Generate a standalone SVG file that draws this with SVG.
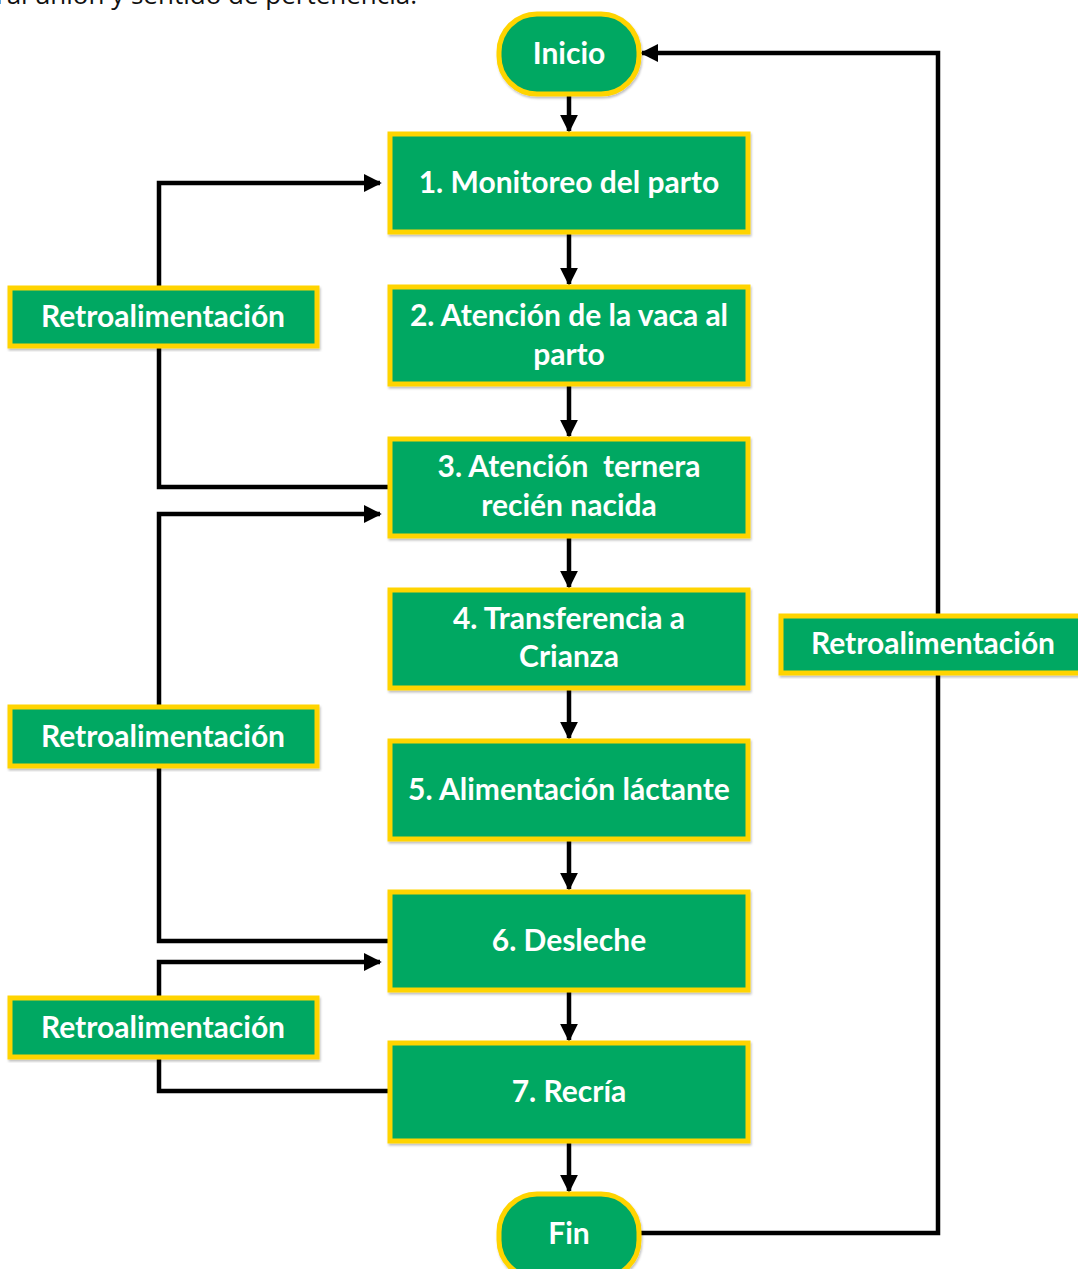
<svg xmlns="http://www.w3.org/2000/svg" width="1078" height="1269" viewBox="0 0 1078 1269">
<defs>
<marker id="ah" viewBox="0 0 10 10" refX="9" refY="5" markerWidth="4" markerHeight="4" markerUnits="strokeWidth" orient="auto">
<path d="M0,0 L10,5 L0,10 z" fill="#000"/>
</marker>
<filter id="sh" x="-5%" y="-5%" width="110%" height="115%">
<feDropShadow dx="1" dy="2" stdDeviation="1" flood-color="#000" flood-opacity="0.25"/>
</filter>
</defs>
<style>
.box{fill:#00A862;stroke:#FFD400;stroke-width:5;filter:url(#sh)}
.t{font-family:Lato,"Open Sans","Liberation Sans",sans-serif;font-weight:700;font-size:30px;fill:#fff;text-anchor:middle}
.c{fill:none;stroke:#000;stroke-width:4.5}
.top{font-family:"Open Sans","Liberation Sans",sans-serif;font-size:26px;fill:#111}
</style>
<rect width="1078" height="1269" fill="#fff"/>
<text class="top" x="-4" y="4">ral unión y sentido de pertenencia.</text>
<g id="connectors">
<path class="c" d="M569,95 V131" marker-end="url(#ah)"/>
<path class="c" d="M569,233 V284" marker-end="url(#ah)"/>
<path class="c" d="M569,385 V436" marker-end="url(#ah)"/>
<path class="c" d="M569,537 V587" marker-end="url(#ah)"/>
<path class="c" d="M569,689 V738" marker-end="url(#ah)"/>
<path class="c" d="M569,840 V889" marker-end="url(#ah)"/>
<path class="c" d="M569,991 V1040" marker-end="url(#ah)"/>
<path class="c" d="M569,1142 V1191" marker-end="url(#ah)"/>
<path class="c" d="M640,1233 H938 V53 H642" marker-end="url(#ah)"/>
<path class="c" d="M390,487 H159 V183 H380" marker-end="url(#ah)"/>
<path class="c" d="M390,941 H159 V514 H380" marker-end="url(#ah)"/>
<path class="c" d="M390,1091 H159 V962 H380" marker-end="url(#ah)"/>
</g>
<g id="inicio"><rect class="box" x="499" y="14" width="140" height="80" rx="38"/><text class="t" x="569" y="64">Inicio</text></g>
<g id="n1"><rect class="box" x="390" y="134" width="358" height="98"/><text class="t" x="569" y="193">1. Monitoreo del parto</text></g>
<g id="n2"><rect class="box" x="390" y="287" width="358" height="97"/><text class="t" x="569" y="326">2. Atención de la vaca al</text><text class="t" x="569" y="365">parto</text></g>
<g id="n3"><rect class="box" x="390" y="439" width="358" height="97"/><text class="t" x="569" y="477" xml:space="preserve">3. Atención  ternera</text><text class="t" x="569" y="516">recién nacida</text></g>
<g id="n4"><rect class="box" x="390" y="590" width="358" height="98"/><text class="t" x="569" y="629">4. Transferencia a</text><text class="t" x="569" y="667">Crianza</text></g>
<g id="n5"><rect class="box" x="390" y="741" width="358" height="98"/><text class="t" x="569" y="800">5. Alimentación láctante</text></g>
<g id="n6"><rect class="box" x="390" y="892" width="358" height="98"/><text class="t" x="569" y="951">6. Desleche</text></g>
<g id="n7"><rect class="box" x="390" y="1043" width="358" height="98"/><text class="t" x="569" y="1102">7. Recría</text></g>
<g id="fin"><rect class="box" x="499" y="1194" width="140" height="84" rx="38"/><text class="t" x="569" y="1244">Fin</text></g>
<g id="retro1"><rect class="box" x="10" y="288" width="307" height="58"/><text class="t" x="163" y="327">Retroalimentación</text></g>
<g id="retro2"><rect class="box" x="10" y="707" width="307" height="59"/><text class="t" x="163" y="747">Retroalimentación</text></g>
<g id="retro3"><rect class="box" x="10" y="998" width="307" height="59"/><text class="t" x="163" y="1038">Retroalimentación</text></g>
<g id="retro4"><rect class="box" x="781" y="616" width="300" height="57"/><text class="t" x="933" y="654">Retroalimentación</text></g>
</svg>
